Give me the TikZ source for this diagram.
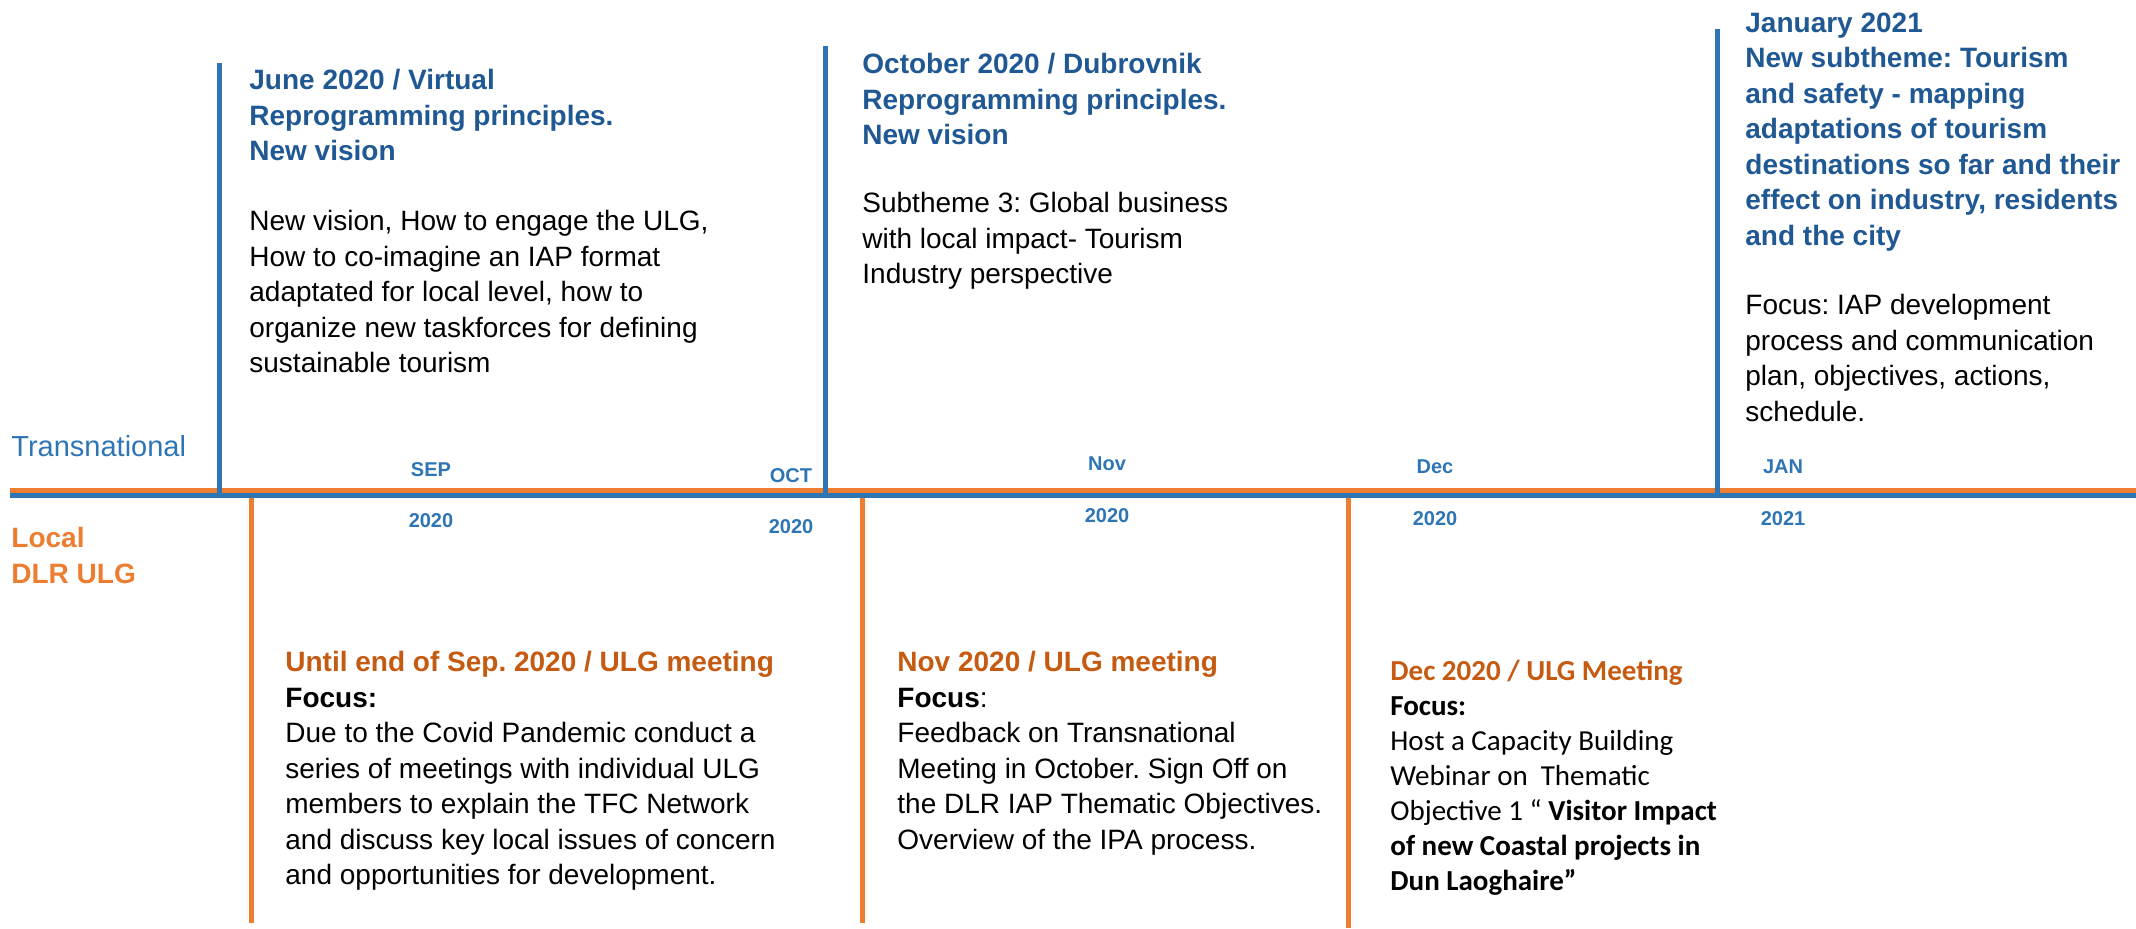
\documentclass[tikz,border=0pt]{standalone}
\usepackage{fontspec}
\setmainfont{Liberation Sans}
\newfontfamily\calibri{Carlito}
\usetikzlibrary{calc}
\frenchspacing

\definecolor{lineblue}{RGB}{46,117,182}
\definecolor{lineorange}{RGB}{237,125,49}
\definecolor{titleblue}{RGB}{31,88,146}
\definecolor{titleorange}{RGB}{197,90,17}

\tikzset{
  txt/.style={anchor=north west, inner sep=0pt, align=left,
    font=\fontsize{14}{17.75}\selectfont, execute at begin node=\strut, yshift=12.425pt},
  head/.style={txt, font=\fontsize{14}{17.75}\selectfont\bfseries, text=titleblue},
  month/.style={anchor=base, inner sep=0pt, font=\fontsize{10}{12}\selectfont\bfseries, text=lineblue},
  transline/.style={draw=lineblue, line width=2.5pt},
  localline/.style={draw=lineorange, line width=2.5pt},
}

\begin{document}
\begin{tikzpicture}[x=0.5pt, y=-0.5pt]
  \useasboundingbox (0,0) rectangle (2136,928);

  % Timeline axis
  \coordinate (orangeL) at (10,490);
  \coordinate (orangeR) at (2136,490);
  \coordinate (blueL) at (10,495);
  \coordinate (blueR) at (2136,495);
  \draw[localline] (orangeL) -- (orangeR);
  \draw[transline] (blueL) -- (blueR);

  % Transnational markers
  \foreach \x/\t [count=\i] in {219/63, 825/46, 1717/29} {
    \coordinate (ttop\i) at (\x,\t);
    \coordinate (tbot\i) at (\x,498);
    \draw[transline] (ttop\i) -- (tbot\i);
  }

  % Local markers
  \foreach \x/\b [count=\i] in {251/923, 862/923, 1348/928} {
    \coordinate (ltop\i) at (\x,497.5);
    \coordinate (lbot\i) at (\x,\b);
    \draw[localline] (ltop\i) -- (lbot\i);
  }

  % Months and years
  \foreach \m/\yr/\x/\ym/\yy in {SEP/2020/431/476/527, OCT/2020/791/482/533,
      Nov/2020/1107/470/522, Dec/2020/1435/473/525, JAN/2021/1783/473/525} {
    \node[month] (m\m) at (\x,\ym) {\m};
    \node[month] (y\m) at (\x,\yy) {\yr};
  }

  % Row labels
  \node[txt, font=\fontsize{14.5}{17.75}\selectfont, text=lineblue] (trans) at (11,456) {Transnational};
  \node[txt, font=\fontsize{14}{17.75}\selectfont\bfseries, text=lineorange] (local) at (11,552) {Local\\DLR ULG};

  % Transnational meetings
  \node[head] (junT) at (249,94) {June 2020 / Virtual\\Reprogramming principles.\\New vision};
  \node[txt] (junB) at (249,235) {New vision, How to engage the ULG,\\How to co-imagine an IAP format\\adaptated for local level, how to\\organize new taskforces for defining\\sustainable tourism};

  \node[head] (octT) at (862,78) {October 2020 / Dubrovnik\\Reprogramming principles.\\New vision};
  \node[txt] (octB) at (862,217) {Subtheme 3: Global business\\with local impact- Tourism\\Industry perspective};

  \node[head] (janT) at (1745,37) {January 2021\\New subtheme: Tourism\\and safety - mapping\\adaptations of tourism\\destinations so far and their\\effect on industry, residents\\and the city};
  \node[txt] (janB) at (1745,319) {Focus: IAP development\\process and communication\\plan, objectives, actions,\\schedule.};

  % Local ULG meetings
  \node[txt] (sepL) at (285,676) {\textcolor{titleorange}{\bfseries Until end of Sep. 2020 / ULG meeting}\\
    \textbf{Focus:}\\Due to the Covid Pandemic conduct a\\series of meetings with individual ULG\\
    members to explain the TFC Network\\and discuss key local issues of concern\\and opportunities for development.};

  \node[txt] (novL) at (897,676) {\textcolor{titleorange}{\bfseries Nov 2020 / ULG meeting}\\
    \textbf{Focus}:\\Feedback on Transnational\\Meeting in October. Sign Off on\\
    the DLR IAP Thematic Objectives.\\Overview of the IPA process.};

  \node[txt, font=\calibri\fontsize{14.5}{17.5}\selectfont] (decL) at (1390,685) {\textcolor{titleorange}{\bfseries\fontsize{14.5}{17.75}\selectfont Dec 2020 / ULG Meeting}\\
    \textbf{Focus:}\\Host a Capacity Building\\Webinar on\ \ Thematic\\
    Objective 1 “ \textbf{Visitor Impact}\\\textbf{of new Coastal projects in}\\\textbf{Dun Laoghaire”}};
\end{tikzpicture}
\end{document}
